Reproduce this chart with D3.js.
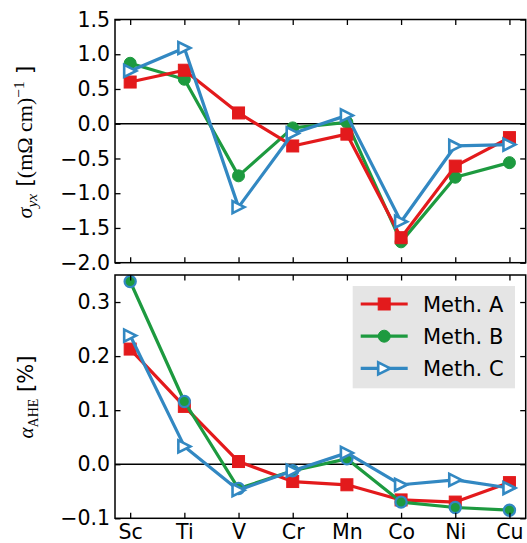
<!DOCTYPE html>
<html><head><meta charset="utf-8">
<script src="https://cdn.jsdelivr.net/npm/d3@7"></script>
<style>
html,body{margin:0;padding:0;background:#fff;}
svg{display:block;}
.tick text{font-family:"DejaVu Sans",sans-serif;font-size:20.5px;fill:#000;}
</style></head>
<body><svg id="chart" width="527" height="543"></svg>
<script>
const categories = ["Sc","Ti","V","Cr","Mn","Co","Ni","Cu"];
const seriesNames = ["Meth. A","Meth. B","Meth. C"];
const sigmaA = [0.60, 0.77, 0.155, -0.32, -0.15, -1.64, -0.61, -0.20];
const sigmaB = [0.87, 0.64, -0.75, -0.06, 0.02, -1.70, -0.77, -0.56];
const sigmaC = [0.76, 1.09, -1.20, -0.14, 0.12, -1.41, -0.32, -0.30];
const alphaA = [0.213, 0.107, 0.005, -0.032, -0.038, -0.066, -0.070, -0.034];
const alphaB = [0.338, 0.116, -0.045, -0.012, 0.010, -0.070, -0.080, -0.085];
const alphaC = [0.238, 0.033, -0.048, -0.012, 0.021, -0.038, -0.029, -0.044];
const sigmaTicks = [-2.0,-1.5,-1.0,-0.5,0.0,0.5,1.0,1.5];
const alphaTicks = [-0.1,0.0,0.1,0.2,0.3];

const colors = {A:"#e31a1c", B:"#1d9a3f", C:"#3288c2"};
const svg = d3.select("#chart");
const L = 115, R = 525.7;
const x = d3.scaleLinear().domain([-0.28, 7.3]).range([L, R]);
const idx = d3.range(categories.length);

function panel(top, bottom, domain, ticks, series, showX, order) {
  const y = d3.scaleLinear().domain(domain).range([bottom, top]);
  const g = svg.append("g");
  g.append("line").attr("x1", L).attr("x2", R).attr("y1", y(0)).attr("y2", y(0))
    .attr("stroke", "#000").attr("stroke-width", 1.4);
  const line = d3.line().x((d,i) => x(i)).y(d => y(d));
  order.forEach(key => {
    const s = series[key];
    const c = colors[key];
    g.append("path").datum(s.values).attr("d", line).attr("fill", "none")
      .attr("stroke", c).attr("stroke-width", 3.2).attr("stroke-linejoin", "round");
    const mg = g.append("g");
    s.values.forEach((v, i) => drawMarker(mg, key, x(i), y(v), s.edge));
  });
  const fmt = d3.format(".1f");
  const ax = [
    g.append("g").attr("transform", `translate(${L},0)`).call(d3.axisLeft(y).tickValues(ticks).tickFormat(fmt).tickSizeInner(-5.5).tickSizeOuter(0).tickPadding(5)),
    g.append("g").attr("transform", `translate(${R},0)`).call(d3.axisRight(y).tickValues(ticks).tickFormat("").tickSizeInner(-5.5).tickSizeOuter(0)),
    g.append("g").attr("transform", `translate(0,${top})`).call(d3.axisTop(x).tickValues(idx).tickFormat("").tickSizeInner(-5.5).tickSizeOuter(0)),
    g.append("g").attr("transform", `translate(0,${bottom})`).call(d3.axisBottom(x).tickValues(idx).tickFormat(showX ? (i => categories[i]) : "").tickSizeInner(-5.5).tickSizeOuter(0).tickPadding(6))
  ];
  ax.forEach(a => { a.select(".domain").remove(); a.selectAll(".tick line").attr("stroke","#000").attr("stroke-width",1.3); });
  ax[3].selectAll(".tick text").attr("dy", "0.71em");
  g.append("rect").attr("x", L).attr("y", top).attr("width", R - L).attr("height", bottom - top)
    .attr("fill", "none").attr("stroke", "#000").attr("stroke-width", 1.5);
  return y;
}

function drawMarker(g, key, cx, cy, edge) {
  const c = colors[key];
  if (key === "A") {
    g.append("rect").attr("x", cx - 6).attr("y", cy - 6).attr("width", 12).attr("height", 12)
      .attr("fill", c).attr("stroke", c).attr("stroke-width", 1);
  } else if (key === "B") {
    g.append("circle").attr("cx", cx).attr("cy", cy).attr("r", edge ? 5.6 : 6)
      .attr("fill", c).attr("stroke", edge || c).attr("stroke-width", edge ? 2.2 : 1);
  } else {
    const s = 6;
    g.append("path").attr("d", `M${cx + s},${cy} L${cx - s},${cy - s} L${cx - s},${cy + s} Z`)
      .attr("fill", "#fff").attr("stroke", c).attr("stroke-width", 2.6).attr("stroke-linejoin", "miter");
  }
}

panel(19.5, 262.7, [-2.0, 1.5], sigmaTicks,
  {A:{values:sigmaA}, B:{values:sigmaB}, C:{values:sigmaC}}, false, ["B","A","C"]);
panel(275, 518.3, [-0.1, 0.35], alphaTicks,
  {A:{values:alphaA}, B:{values:alphaB, edge:colors.C}, C:{values:alphaC}}, true, ["A","B","C"]);

// legend
const lg = svg.append("g");
lg.append("rect").attr("x", 352.7).attr("y", 286).attr("width", 162.3).attr("height", 102.3).attr("fill", "#e5e5e5");
["A","B","C"].forEach((k, i) => {
  const yy = 304 + i * 32.2;
  lg.append("line").attr("x1", 360.7).attr("x2", 407.7).attr("y1", yy).attr("y2", yy)
    .attr("stroke", colors[k]).attr("stroke-width", 3.2);
  drawMarker(lg, k, 384.2, yy, null);
  lg.append("text").attr("x", 423).attr("y", yy).attr("dy", "0.36em")
    .style("font-family", '"DejaVu Sans",sans-serif').style("font-size", "21px").text(seriesNames[i]);
});

// y labels
const serif = '"Liberation Serif","DejaVu Serif",serif';
const sans = '"DejaVu Sans",sans-serif';
const t1 = svg.append("text").attr("transform", "translate(32,142) rotate(-90)")
  .attr("text-anchor", "middle").style("font-size", "22px");
t1.append("tspan").style("font-family", serif).style("font-style", "italic").text("σ");
t1.append("tspan").style("font-family", serif).style("font-style", "italic").style("font-size", "15.5px").attr("dy", 5).text("yx");
t1.append("tspan").style("font-family", sans).attr("dy", -5).text(" [");
t1.append("tspan").style("font-family", serif).text("(mΩ cm)");
t1.append("tspan").style("font-family", serif).style("font-size", "15.5px").attr("dy", -8).text("−1");
t1.append("tspan").style("font-family", sans).attr("dy", 8).text(" ]");

const t2 = svg.append("text").attr("transform", "translate(33,397) rotate(-90)")
  .attr("text-anchor", "middle").style("font-size", "21px");
t2.append("tspan").style("font-family", serif).style("font-style", "italic").text("α");
t2.append("tspan").style("font-family", serif).style("font-size", "14px").attr("dy", 5).text("AHE");
t2.append("tspan").style("font-family", sans).attr("dy", -5).text(" [%]");
</script></body></html>
